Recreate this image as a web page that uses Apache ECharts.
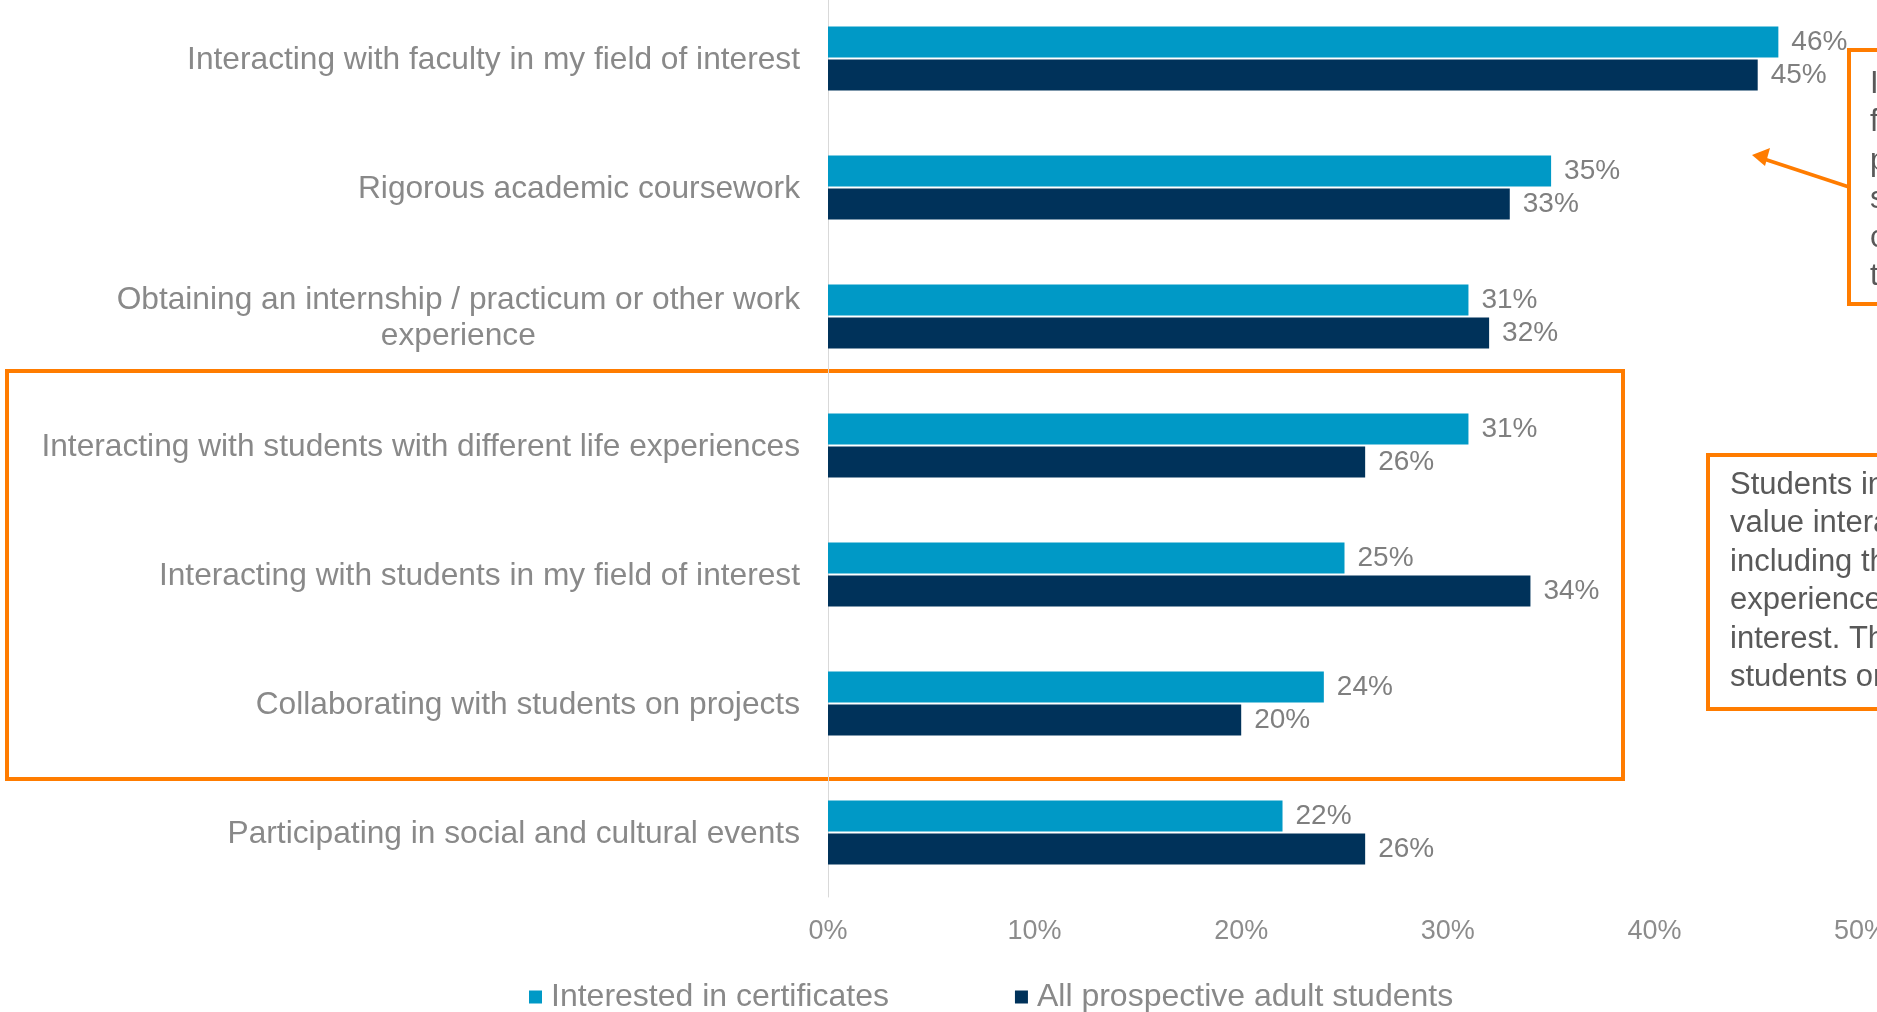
<!DOCTYPE html>
<html>
<head>
<meta charset="utf-8">
<script src="https://cdn.jsdelivr.net/npm/echarts@6/dist/echarts.min.js"></script>
<style>html,body{margin:0;padding:0;background:#fff;}#c{width:1877px;height:1012px;}</style>
</head>
<body>
<div id="c"></div>
<script>
const categories = [
  'Interacting with faculty in my field of interest',
  'Rigorous academic coursework',
  'Obtaining an internship / practicum or other work\nexperience',
  'Interacting with students with different life experiences',
  'Interacting with students in my field of interest',
  'Collaborating with students on projects',
  'Participating in social and cultural events'
];
const seriesNames = ['Interested in certificates', 'All prospective adult students'];
const certValues = [46, 35, 31, 31, 25, 24, 22];
const allValues = [45, 33, 32, 26, 34, 20, 26];
const xTicks = [0, 10, 20, 30, 40, 50];

const FONT = '"Liberation Sans", Arial, sans-serif';
const chart = echarts.init(document.getElementById('c'), null, {renderer: 'canvas'});

const labelCfg = {
  show: true, position: 'right', distance: 13,
  formatter: p => p.value + '%',
  color: '#7f7f7f', fontSize: 28, fontFamily: FONT, padding: [3, 0, 0, 0]
};

chart.setOption({
  animation: false,
  backgroundColor: '#ffffff',
  grid: {left: 828, right: 16, top: -6, bottom: 115, containLabel: false, outerBoundsMode: 'none'},
  xAxis: {
    type: 'value', min: xTicks[0], max: xTicks[xTicks.length - 1], interval: 10,
    axisLine: {show: false}, axisTick: {show: false}, splitLine: {show: false},
    axisLabel: {formatter: '{value}%', color: '#8c8c8c', fontSize: 27, fontFamily: FONT, margin: 21}
  },
  yAxis: {
    type: 'category', data: categories, inverse: true,
    axisLine: {show: true, lineStyle: {color: '#d9d9d9', width: 1}},
    axisTick: {show: false},
    axisLabel: {
      margin: 28, color: '#898989', fontSize: 31.7, fontFamily: FONT, lineHeight: 36,
      padding: [3, 0, 0, 0],
      formatter: v => v.split('\n').map(s => '{c|' + s + '}').join('\n'),
      rich: {c: {align: 'center', color: '#898989', fontSize: 31.7, fontFamily: FONT, lineHeight: 36}}
    }
  },
  legend: {
    left: 524, top: 976, icon: 'rect', itemWidth: 13, itemHeight: 13, itemGap: 126,
    textStyle: {color: '#898989', fontSize: 32, fontFamily: FONT, padding: [0, 0, 0, 4]},
    data: seriesNames
  },
  series: [
    {name: seriesNames[0], type: 'bar', data: certValues, barWidth: 31, barGap: '6%',
     itemStyle: {color: '#0099c6'}, label: labelCfg},
    {name: seriesNames[1], type: 'bar', data: allValues, barWidth: 31, barGap: '6%',
     itemStyle: {color: '#00325a'}, label: labelCfg}
  ],
  graphic: [
    {type: 'rect', shape: {x: 7, y: 371, width: 1616, height: 408},
     style: {fill: 'none', stroke: '#ff7c00', lineWidth: 4}},
    {type: 'rect', shape: {x: 1849, y: 50, width: 120, height: 254},
     style: {fill: '#ffffff', stroke: '#ff7c00', lineWidth: 4}},
    {type: 'text', x: 1870, y: 65,
     style: {text: 'Interacting with\nfaculty is a top\npriority for all\nstudents\nconsidering\nthis', font: '31px ' + FONT, fill: '#595959', lineHeight: 38.5, verticalAlign: 'top'}},
    {type: 'line', shape: {x1: 1849, y1: 187, x2: 1764, y2: 159},
     style: {stroke: '#ff7c00', lineWidth: 3.5}},
    {type: 'polygon', shape: {points: [[1752, 155], [1770, 148], [1765, 166]]},
     style: {fill: '#ff7c00'}},
    {type: 'rect', shape: {x: 1708, y: 455, width: 220, height: 254},
     style: {fill: '#ffffff', stroke: '#ff7c00', lineWidth: 4}},
    {type: 'text', x: 1730, y: 466,
     style: {text: 'Students interested\nvalue interactions\nincluding those with\nexperiences in their\ninterest. They value\nstudents on projects', font: '31px ' + FONT, fill: '#595959', lineHeight: 38.5, verticalAlign: 'top'}}
  ]
});
</script>
</body>
</html>
